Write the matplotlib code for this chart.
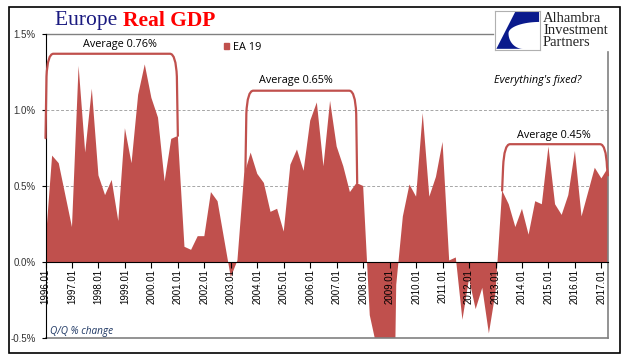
import matplotlib
matplotlib.use('Agg')
import matplotlib.pyplot as plt
import numpy as np
from matplotlib.path import Path
from matplotlib.patches import PathPatch, Patch, Rectangle, Polygon

# EA 19 real GDP, Q/Q % change, 1996Q1 .. 2017Q2
gdp_qq = [0.12, 0.70, 0.65, 0.44,
          0.23, 1.29, 0.72, 1.14,
          0.57, 0.44, 0.54, 0.27,
          0.88, 0.65, 1.10, 1.30,
          1.08, 0.95, 0.53, 0.81,
          0.83, 0.10, 0.08, 0.17,
          0.17, 0.46, 0.40, 0.15,
          -0.10, 0.01, 0.57, 0.72,
          0.58, 0.52, 0.33, 0.35,
          0.20, 0.64, 0.74, 0.60,
          0.93, 1.05, 0.63, 1.06,
          0.76, 0.63, 0.46, 0.52,
          0.50, -0.35, -0.55, -1.70,
          -3.00, -0.15, 0.30, 0.51,
          0.43, 0.98, 0.43, 0.56,
          0.79, 0.01, 0.03, -0.38,
          -0.11, -0.31, -0.17, -0.47,
          -0.20, 0.47, 0.38, 0.23,
          0.35, 0.18, 0.40, 0.38,
          0.76, 0.38, 0.31, 0.44,
          0.73, 0.30, 0.46, 0.62,
          0.55, 0.62]
years = list(range(1996, 2018))
tick_labels = [f'{y}.01' for y in years]
y_ticks = [-0.5, 0.0, 0.5, 1.0, 1.5]
avg_labels = ['Average 0.76%', 'Average 0.65%', 'Average 0.45%']

red = '#C0504D'
x = np.arange(len(gdp_qq))

fig = plt.figure(figsize=(6.41, 3.61), dpi=100)
ax = fig.add_axes([45.5/641, 23/361, 562.5/641, 304/361])

# spine move first, it resets the ticks
ax.spines['bottom'].set_position(('data', 0))
ax.spines['bottom'].set_color('black')
ax.spines['bottom'].set_zorder(3)
ax.spines['left'].set_color('black')
ax.spines['top'].set_visible(False)
ax.spines['right'].set_visible(False)
ax.set_axisbelow(False)  # tick labels over the fill

ax.fill_between(x, gdp_qq, 0, color=red, lw=0, zorder=2)
ax.set_xlim(0, len(gdp_qq) - 1)
ax.set_ylim(-0.5, 1.5)

for g in [0.5, 1.0]:
    ax.axhline(g, color='#A6A6A6', lw=0.7, ls=(0, (3, 2)), zorder=1)

ax.set_yticks(y_ticks)
ax.set_yticklabels([f'{v:.1f}%' for v in y_ticks], family='Liberation Sans',
                   fontsize=7, color='#333333')
ax.set_xticks(x[::4])
ax.set_xticklabels(tick_labels, rotation=90, family='Liberation Sans', fontsize=7)
ax.tick_params(axis='y', length=3, pad=4)
ax.tick_params(axis='x', length=4, pad=1, direction='out')

ax.plot([0, 1], [0, 0], transform=ax.transAxes, color='#808080', lw=1.2, clip_on=False)
ax.plot([0, 0.796], [1, 1], transform=ax.transAxes, color='#808080', lw=1, clip_on=False)
ax.plot([1, 1], [0, 0.94], transform=ax.transAxes, color='#808080', lw=1.2, clip_on=False)


def bracket(x0, yl, x1, yr, top):
    verts = [(x0, yl), (x0 + 0.15, top - 0.15), (x0 + 0.3, top), (x0 + 1.2, top),
             (x1 - 1.2, top), (x1 - 0.3, top), (x1 - 0.15, top - 0.15), (x1, yr)]
    codes = [Path.MOVETO, Path.LINETO, Path.CURVE3, Path.CURVE3,
             Path.LINETO, Path.CURVE3, Path.CURVE3, Path.LINETO]
    ax.add_patch(PathPatch(Path(verts, codes), fill=False, ec=red, lw=1.6,
                           clip_on=False, zorder=4, capstyle='round'))


bracket(0, 0.815, 20, 0.83, 1.37)
bracket(30.2, 0.575, 47.1, 0.52, 1.127)
bracket(69.0, 0.47, 85, 0.57, 0.775)

fnt = 'Open Sans'
ax.text(11.3, 1.434, avg_labels[0], ha='center', va='center', fontsize=7.8, family=fnt)
ax.text(37.9, 1.197, avg_labels[1], ha='center', va='center', fontsize=7.8, family=fnt)
ax.text(76.8, 0.835, avg_labels[2], ha='center', va='center', fontsize=7.8, family=fnt)
ax.text(74.4, 1.197, "Everything's fixed?", ha='center', va='center', fontsize=7.8,
        family=fnt, style='italic')
ax.text(0.7, -0.455, 'Q/Q % change', ha='left', va='center', fontsize=7.2,
        family=fnt, style='italic', color='#1F3864')

ax.legend(handles=[Patch(color=red, label='EA 19')], loc='center left',
          bbox_to_anchor=(219/641, 1 - 47/361), bbox_transform=fig.transFigure,
          frameon=False, borderpad=0, handlelength=0.45, handleheight=0.45,
          handletextpad=0.35, prop={'family': fnt, 'size': 7.8})

# title
t1 = fig.text(55/641, 1 - 21/361, 'Europe ', family='Liberation Serif', fontsize=15.5,
              color='#1A1A80', va='center', ha='left')
fig.canvas.draw()
bb = t1.get_window_extent()
fig.text(bb.x1/641, 1 - 21/361, 'Real GDP', family='Liberation Serif', fontsize=15.5,
         weight='bold', color='#FF0000', va='center', ha='left')

# logo
lax = fig.add_axes([495/641, 1 - 50/361, 45/641, 39/361])
lax.set_xlim(0, 1)
lax.set_ylim(0, 1)
lax.set_xticks([])
lax.set_yticks([])
for s in lax.spines.values():
    s.set_color('#B0B0B0')
    s.set_linewidth(0.8)
tt = np.linspace(0, 1, 20)
lower = [(0.62 - 0.32 * np.sin(t * np.pi / 2), 0.03 + 0.40 * (1 - np.cos(t * np.pi / 2))) for t in tt]
upper = [(0.30 + 0.70 * (1 - np.cos(t * np.pi / 2)), 0.43 + 0.29 * np.sin(t * np.pi / 2)) for t in tt]
shape = [(0.45, 0.98), (0.98, 0.98), (0.98, 0.72)] + upper[::-1] + lower[::-1] + [(0.03, 0.03)]
lax.add_patch(Polygon(shape, closed=True, color='#0A1A8C', lw=0))
for i, w in enumerate(['Alhambra', 'Investment', 'Partners']):
    fig.text(543/641, 1 - (18 + 12.5*i)/361, w, family='Liberation Serif', fontsize=10.5,
             color='#222222', va='center', ha='left')

# outer frame
fig.patches.append(Rectangle((9/641, 8/361), 611/641, 346/361, transform=fig.transFigure,
                             fill=False, ec='black', lw=1.2))

fig.savefig('out.png', dpi=100)
